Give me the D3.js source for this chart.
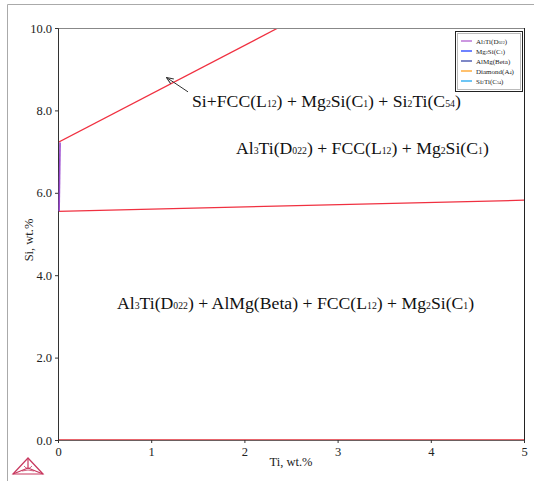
<!DOCTYPE html>
<html><head><meta charset="utf-8">
<script src="https://cdn.jsdelivr.net/npm/d3@7"></script>
<style>
html,body{margin:0;padding:0;background:#fff;}
svg{display:block;}
svg text{font-family:"Liberation Serif","Times New Roman",Times,serif;}
</style></head>
<body>
<svg id="chart" width="534" height="481"></svg>
<script>
// ---- data ----
const xTicks = [0, 1, 2, 3, 4, 5];
const yTicks = [0, 2, 4, 6, 8, 10];
const xLabel = "Ti, wt.%";
const yLabel = "Si, wt.%";
const boundaryUpper = [[0, 7.22], [2.36, 10]];
const boundaryLower = [[0, 5.55], [5, 5.82]];
const boundaryZero = [[0, 0], [5, 0]];
const boundaryAl3Ti = [[0.022, 7.22], [0.012, 5.55]];
const legendNames = ["Al_{3}Ti(D_{022})", "Mg_{2}Si(C_{1})", "AlMg(Beta)", "Diamond(A_{4})", "Si_{2}Ti(C_{54})"];
const legendColors = ["#b060d0", "#2040ff", "#3848a8", "#ffa020", "#20a8f0"];
const regionLabels = ["Si+FCC(L_{12}) + Mg_{2}Si(C_{1}) + Si_{2}Ti(C_{54})",
                      "Al_{3}Ti(D_{022}) + FCC(L_{12}) + Mg_{2}Si(C_{1})",
                      "Al_{3}Ti(D_{022}) + AlMg(Beta) + FCC(L_{12}) + Mg_{2}Si(C_{1})"];
const regionAnchorTi = [1.438, 1.91, 0.633];
const regionAnchorSi = [8.08, 6.94, 3.18];
const arrowFrom = [1.395, 8.45];
const arrowTo = [1.17, 8.79];

// ---- layout ----
const FONT = "Liberation Serif, Times New Roman, serif";
const svg = d3.select("#chart");
const L = 58, R = 524, T = 28, B = 440;
const x = d3.scaleLinear().domain([0, 5]).range([L, R]);
const y = d3.scaleLinear().domain([0, 10]).range([B, T]);

// outer frame
svg.append("path").attr("d", "M7.5,481V4.5H534").attr("fill", "none").attr("stroke", "#aaa");

function richText(sel, str, size, subScale) {
  const parts = str.split(/(_\{[^}]*\})/).filter(s => s.length);
  parts.forEach(p => {
    if (p.startsWith("_{")) {
      sel.append("tspan").attr("font-size", size * subScale).text(p.slice(2, -1));
    } else {
      sel.append("tspan").attr("font-size", size).text(p);
    }
  });
}

// boundary lines
const line = d3.line().x(d => x(d[0])).y(d => y(d[1]));
svg.append("clipPath").attr("id", "pc").append("rect")
  .attr("x", L).attr("y", T).attr("width", R - L).attr("height", B - T);
const g = svg.append("g").attr("clip-path", "url(#pc)");
g.append("path").datum(boundaryZero).attr("d", line).attr("fill", "none").attr("stroke", "#e0303a").attr("stroke-width", 1.5);
g.append("path").datum(boundaryUpper).attr("d", line).attr("fill", "none").attr("stroke", "#f03040").attr("stroke-width", 1.3);
g.append("path").datum(boundaryLower).attr("d", line).attr("fill", "none").attr("stroke", "#f03040").attr("stroke-width", 1.3);

// axes frame
svg.append("line").attr("x1", L).attr("x2", R).attr("y1", T + 0.5).attr("y2", T + 0.5).attr("stroke", "#888");
svg.append("line").attr("x1", R + 0.5).attr("x2", R + 0.5).attr("y1", T).attr("y2", B).attr("stroke", "#222");
svg.append("line").attr("x1", L).attr("x2", R + 1).attr("y1", B + 0.5).attr("y2", B + 0.5).attr("stroke", "#3a2a2a").attr("stroke-opacity", 0.75);

const xAxis = svg.append("g").attr("transform", `translate(0,${B})`)
  .call(d3.axisBottom(x).tickValues(xTicks).tickFormat(d3.format("d")).tickSize(3).tickPadding(2));
const yAxis = svg.append("g").attr("transform", `translate(${L},0)`)
  .call(d3.axisLeft(y).tickValues(yTicks).tickFormat(d3.format(".1f")).tickSize(3).tickPadding(3));
[xAxis, yAxis].forEach(a => {
  a.attr("font-family", FONT);
  a.selectAll(".domain").attr("stroke", "#333");
  a.selectAll(".tick line").attr("stroke", "#333");
  a.selectAll("text").attr("font-family", FONT).attr("font-size", 12.5).attr("fill", "#222");
});
xAxis.select(".domain").attr("stroke", "none");
xAxis.selectAll("text").attr("dy", "0.85em");

// Al3Ti boundary drawn above the axis line
svg.append("path").datum(boundaryAl3Ti).attr("d", line).attr("fill", "none").attr("stroke", "#9a48d0").attr("stroke-width", 1.6);

svg.append("text").attr("x", (L + R) / 2).attr("y", 466).attr("text-anchor", "middle").attr("font-family", FONT)
  .attr("font-size", 12.5).attr("fill", "#222").text(xLabel);
svg.append("text").attr("transform", `translate(33,${(T + B) / 2 + 6}) rotate(-90)`).attr("text-anchor", "middle")
  .attr("font-family", FONT).attr("font-size", 12.5).attr("fill", "#222").text(yLabel);

// region labels
regionLabels.forEach((s, i) => {
  const t = svg.append("text").attr("x", x(regionAnchorTi[i])).attr("y", y(regionAnchorSi[i]))
    .attr("font-family", FONT).attr("fill", "#111");
  richText(t, s, 17.7, 0.55);
});

// arrow
svg.append("defs").append("marker").attr("id", "ah").attr("viewBox", "0 0 10 10")
  .attr("refX", 9).attr("refY", 5).attr("markerWidth", 7).attr("markerHeight", 7).attr("orient", "auto")
  .append("path").attr("d", "M0,1 L10,5 L0,9").attr("fill", "none").attr("stroke", "#333").attr("stroke-width", 1.5);
svg.append("line").attr("x1", x(arrowFrom[0])).attr("y1", y(arrowFrom[1]))
  .attr("x2", x(arrowTo[0])).attr("y2", y(arrowTo[1]))
  .attr("stroke", "#333").attr("stroke-width", 1).attr("marker-end", "url(#ah)");

// legend
const lg = svg.append("g");
lg.append("rect").attr("x", 455.5).attr("y", 31.5).attr("width", 67).attr("height", 60)
  .attr("fill", "#fff").attr("stroke", "#222");
lg.append("rect").attr("x", 457.5).attr("y", 33.5).attr("width", 63).attr("height", 56)
  .attr("fill", "none").attr("stroke", "#bbb");
legendNames.forEach((n, i) => {
  const yy = 41 + i * 10;
  lg.append("line").attr("x1", 461).attr("x2", 472).attr("y1", yy).attr("y2", yy)
    .attr("stroke", legendColors[i]).attr("stroke-width", 1.3);
  const t = lg.append("text").attr("x", 476).attr("y", yy + 2.5).attr("font-family", FONT).attr("fill", "#222");
  richText(t, n, 7, 0.6);
});

// logo (tetrahedron)
const logo = svg.append("g").attr("fill", "none").attr("stroke", "#c8385f").attr("stroke-width", 1.2);
logo.append("path").attr("d", "M28,458 L13,474 L43,474 Z");
logo.append("path").attr("d", "M28,458 L28,468 M13,474 L28,468 M43,474 L28,468");
logo.append("path").attr("d", "M24,466 Q28,471 32,466 M22,471 Q28,469 34,471").attr("stroke-width", 0.8);
</script>
</body></html>
